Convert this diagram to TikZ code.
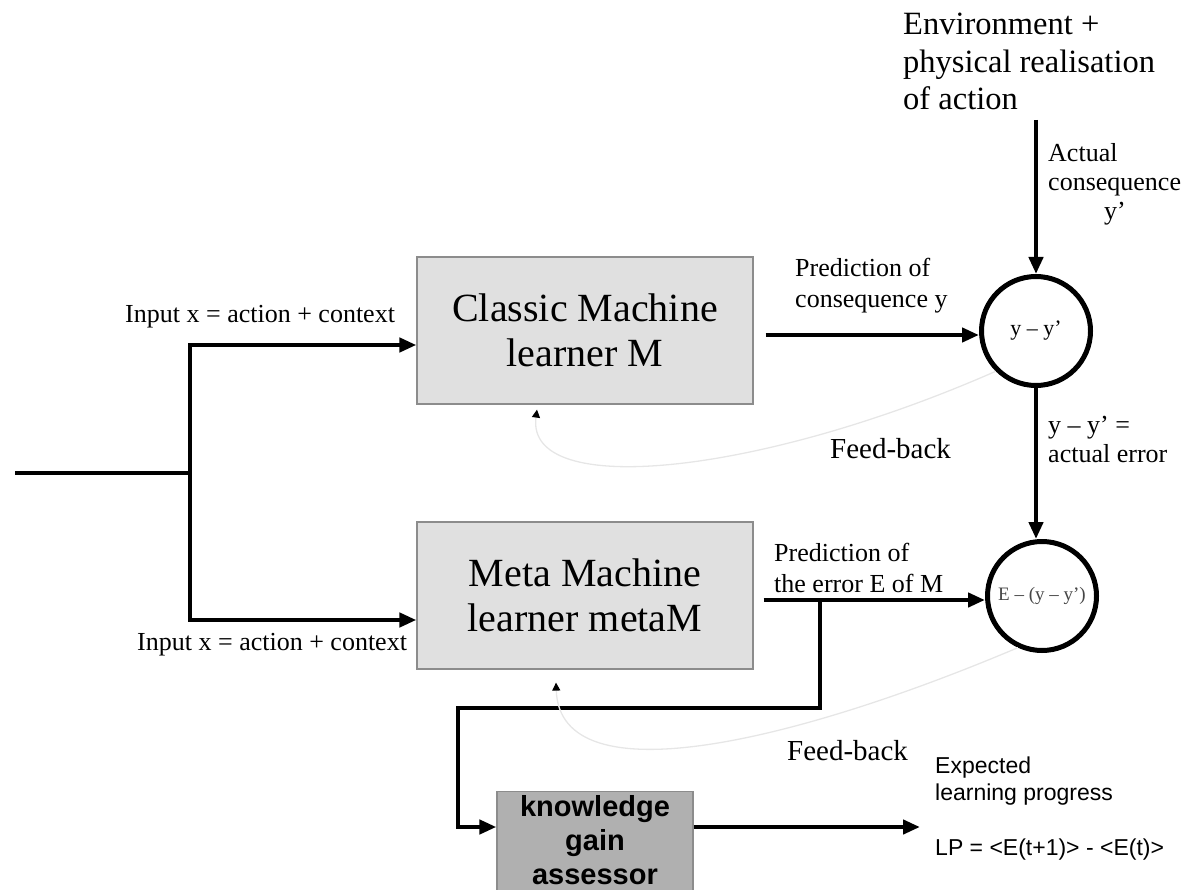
\documentclass[tikz,border=0pt]{standalone}
\usepackage{fontspec}
\setmainfont{Liberation Serif}
\newfontfamily\arialfont{Liberation Sans}
\usetikzlibrary{arrows.meta,calc}

\definecolor{boxfill}{RGB}{224,224,224}
\definecolor{boxline}{RGB}{140,140,140}
\definecolor{kgfill}{RGB}{176,176,176}
\definecolor{fbline}{RGB}{230,230,230}
\definecolor{sumtext}{RGB}{70,70,70}

\newcommand\fsz[2]{\fontsize{#1}{#2}\selectfont}

\begin{document}
\begin{tikzpicture}[x=1pt,y=-1pt,
  learner/.style={draw=boxline, fill=boxfill, line width=1.2pt,
    minimum width=336pt, minimum height=147pt, align=center,
    font=\fsz{40}{45}},
  assessor/.style={draw=boxline, fill=kgfill, line width=1.2pt,
    minimum width=196pt, anchor=north, align=center, inner ysep=4pt,
    text depth=30pt, font=\arialfont\bfseries\fsz{29}{34}},
  sum/.style={circle, draw, line width=5pt, minimum size=109pt, inner sep=0pt},
  wire/.style={line width=4.5pt},
  flow/.style={line width=4.5pt, -{Triangle[length=17pt,width=14pt]}},
  fb/.style={draw=fbline, line width=1.3pt,
    -{Triangle[length=8pt,width=8pt,color=black]}},
  lbl/.style={inner sep=0pt, align=left, anchor=base west, font=\fsz{26}{31}},
  sanslbl/.style={inner sep=0pt, align=left, anchor=base west,
    font=\arialfont\fsz{23}{27}}
]
\useasboundingbox (0,0) rectangle (1185,890);
\clip (0,0) rectangle (1185,890);

% learners, assessor and comparators
\node[learner] (cm) at (585,330.5) {Classic Machine\\learner M};
\node[learner] (mm) at (585,595.5) {Meta Machine\\learner metaM};
\node[assessor] (kg) at (595,791) {knowledge\\gain\\assessor};
\node[sum, font=\fsz{22}{26}] (c1) at (1036,331) {y – y’};
\node[sum, font=\fsz{19}{22}, text=sumtext] (c2) at (1042,596) {E – (y – y’)};

% input fan-out
\coordinate (src) at (15,473);
\coordinate (split) at (190,473);
\draw[wire] (src) -- (split);
\draw[flow] (split) |- ($(cm.west)+(0,14.5)$);
\draw[flow] (split) |- ($(mm.west)+(0,24.5)$);

% predictions to the comparators
\coordinate (p1) at ($(cm.east)+(12,4.5)$);
\draw[flow] (p1) -- (p1 -| c1.west);
\coordinate (p2) at ($(mm.east)+(10,4.5)$);
\draw[flow] (p2) -- (p2 -| c2.west);

% environment and actual error
\coordinate (env) at (1036,120);
\draw[flow] (env) -- (c1.north);
\draw[flow] (c1.south) -- (c1.south |- c2.north);

% error prediction tapped into the assessor
\coordinate (tap) at (820,600);
\coordinate (loop) at (458,708);
\coordinate (kin) at ($(kg.north west)+(0,36)$);
\draw[flow] (tap) |- (loop) |- (kin);
\coordinate (lp) at (920,827);
\draw[flow] (kin -| kg.east) -- (lp);

% feed-back paths
\draw[fb] (c1.225) .. controls (760,475) and (525,500) .. ($(cm.south)+(-48,5)$);
\draw[fb] (c2.245) .. controls (800,740) and (560,800) .. ($(mm.south)+(-29,13)$);

% labels (base anchor = baseline of the last line)
\node[lbl, font=\fsz{32.5}{37.5}] (envtxt) at (903,110)
  {Environment +\\physical realisation\\of action};
\node[lbl, font=\fsz{26}{29}] (acttxt) at (1048,220)
  {Actual\\consequence\\\hspace*{56pt}y’};
\node[lbl] (intop) at (125,323) {Input x = action + context};
\node[lbl] (inbot) at (137,650) {Input x = action + context};
\node[lbl] (predy) at (795,308) {Prediction of\\consequence y};
\node[lbl] (prede) at (774,592) {Prediction of\\the error E of M};
\node[lbl, font=\fsz{26}{29}] (errtxt) at (1048,462) {y – y’ =\\actual error};
\node[lbl, font=\fsz{29}{34}] (fbtop) at (830,458) {Feed-back};
\node[lbl, font=\fsz{29}{34}] (fbbot) at (787,760) {Feed-back};
\node[sanslbl] (exptxt) at (935,800) {Expected\\learning progress};
\node[sanslbl] (lptxt) at (935,855) {LP = <E(t+1)> - <E(t)>};
\end{tikzpicture}
\end{document}
